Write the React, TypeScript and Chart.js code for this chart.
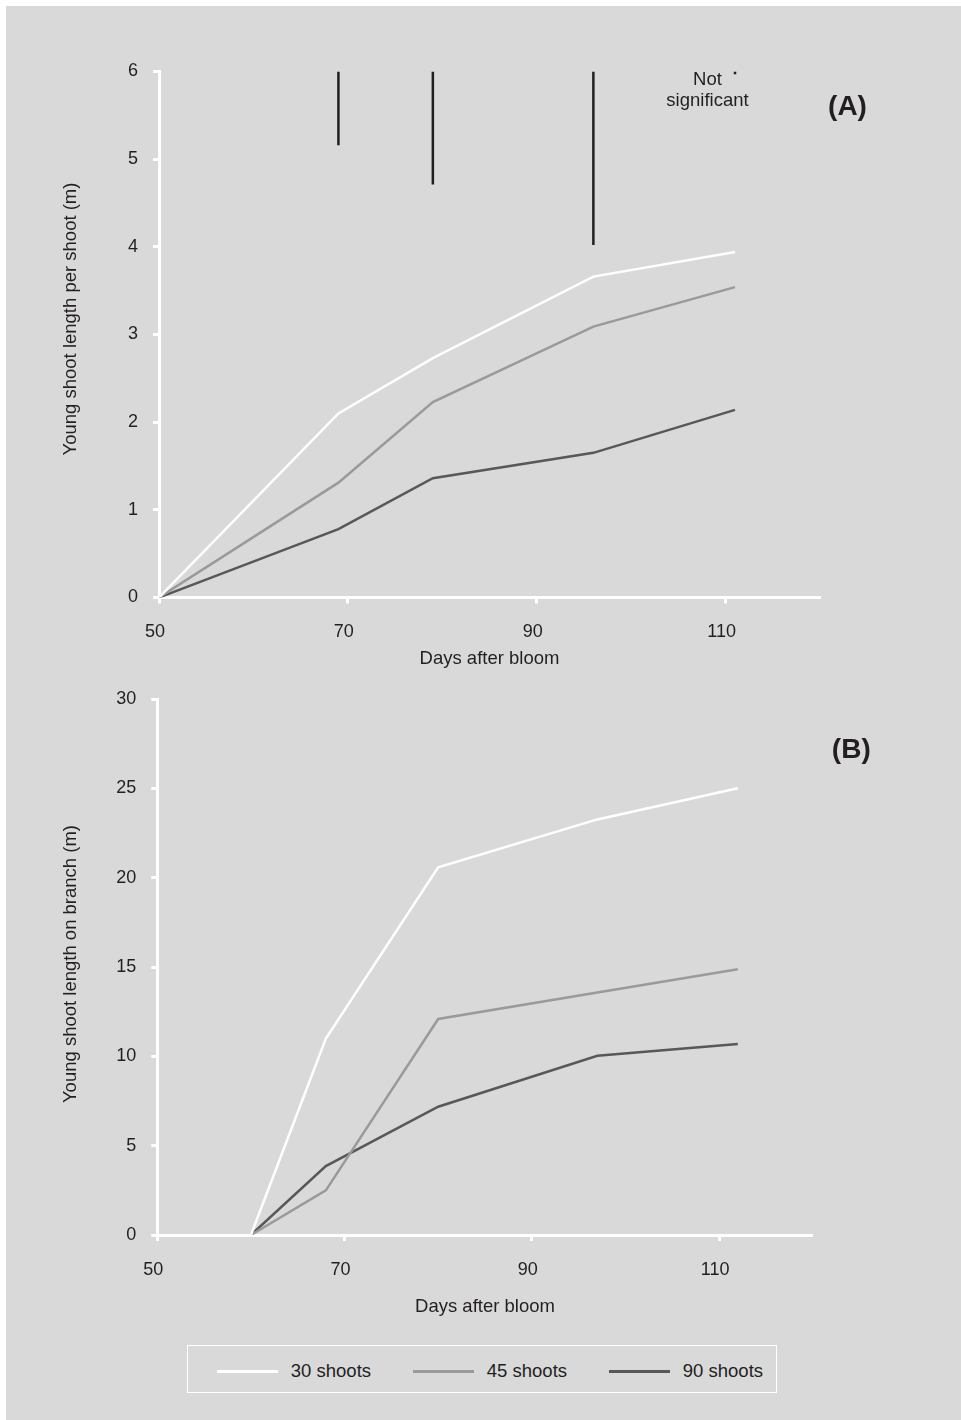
import React, { useEffect, useRef } from 'react';
import { Chart, registerables } from 'chart.js';

Chart.register(...registerables);

// ---------- data ----------
const seriesNames = ['30 shoots', '45 shoots', '90 shoots'];
const seriesColors = ['#ffffff', '#9a9a9a', '#585858'];

const daysA = [50, 69, 79, 96, 111];
const perShoot30 = [0, 2.1, 2.73, 3.66, 3.94];
const perShoot45 = [0, 1.31, 2.23, 3.09, 3.54];
const perShoot90 = [0, 0.78, 1.36, 1.65, 2.14];

const lsdDays = [69, 79, 96, 111];
const lsdTop = [6, 6, 6, 6];
const lsdBottom = [5.16, 4.71, 4.02, 5.97];

const daysB = [60, 68, 80, 97, 112];
const onBranch30 = [0, 11.0, 20.58, 23.26, 25.0];
const onBranch45 = [0, 2.5, 12.09, 13.57, 14.87];
const onBranch90 = [0, 3.86, 7.18, 10.03, 10.69];

const xTickValues = [50, 70, 90, 110];
const xMin = 50;
const xMax = 120;
const yMaxA = 6;
const yStepA = 1;
const yMaxB = 30;
const yStepB = 5;

const xTitle = 'Days after bloom';
const yTitleA = 'Young shoot length per shoot (m)';
const yTitleB = 'Young shoot length on branch (m)';
const panelA = '(A)';
const panelB = '(B)';
const noteLines = ['Not', 'significant'];

// ---------- styling ----------
const FONT = '"Liberation Sans", Arial, Helvetica, sans-serif';
const TEXT = '#231f20';
const BG = '#d9d9d9';

type TextItem = {
  text: string;
  x: number;
  y: number;
  font: string;
  rotate?: number;
  align?: CanvasTextAlign;
};

function makeTextPlugin(id: string, items: TextItem[]) {
  return {
    id,
    afterDraw(chart: any) {
      const ctx = chart.ctx as CanvasRenderingContext2D;
      items.forEach((it) => {
        ctx.save();
        ctx.translate(it.x, it.y);
        if (it.rotate) ctx.rotate(it.rotate);
        ctx.font = it.font;
        ctx.fillStyle = TEXT;
        ctx.textAlign = it.align || 'center';
        ctx.textBaseline = 'alphabetic';
        ctx.fillText(it.text, 0, 0);
        ctx.restore();
      });
    },
  };
}

function lineSet(label: string, xs: number[], ys: number[], color: string) {
  return {
    label,
    data: xs.map((x, i) => ({ x, y: ys[i] })),
    borderColor: color,
    backgroundColor: color,
    borderWidth: 2.5,
    pointRadius: 0,
    pointHoverRadius: 0,
    tension: 0,
    fill: false,
  };
}

function axes(opts: {
  yMax: number;
  yStep: number;
  yWidth: number;
  xHeight: number;
  xTickPad: number;
  xTitlePad: number;
}) {
  return {
    x: {
      type: 'linear' as const,
      min: xMin,
      max: xMax,
      afterBuildTicks: (scale: any) => {
        scale.ticks = xTickValues.map((v) => ({ value: v }));
      },
      afterFit: (scale: any) => {
        scale.height = opts.xHeight;
      },
      border: { display: true, color: '#ffffff', width: 3 },
      grid: {
        display: true,
        drawOnChartArea: false,
        drawTicks: true,
        tickLength: 6,
        tickColor: '#ffffff',
        tickWidth: 3,
      },
      ticks: {
        color: TEXT,
        font: { family: FONT, size: 18 },
        padding: opts.xTickPad,
        labelOffset: -4,
        maxRotation: 0,
        autoSkip: false,
      },
      title: {
        display: true,
        text: xTitle,
        color: TEXT,
        font: { family: FONT, size: 18.5 },
        padding: { top: 0, bottom: opts.xTitlePad },
      },
    },
    y: {
      type: 'linear' as const,
      min: 0,
      max: opts.yMax,
      afterFit: (scale: any) => {
        scale.width = opts.yWidth;
      },
      border: { display: true, color: '#ffffff', width: 3 },
      grid: {
        display: true,
        drawOnChartArea: false,
        drawTicks: true,
        tickLength: 6,
        tickColor: '#ffffff',
        tickWidth: 3,
      },
      ticks: {
        stepSize: opts.yStep,
        color: TEXT,
        font: { family: FONT, size: 18 },
        padding: 15,
      },
    },
  };
}

function ChartA() {
  const ref = useRef<HTMLCanvasElement | null>(null);
  useEffect(() => {
    if (!ref.current) return;
    const lsdSets = lsdDays.map((d, i) => ({
      label: 'lsd' + i,
      data: [
        { x: d, y: lsdTop[i] },
        { x: d, y: lsdBottom[i] },
      ],
      borderColor: TEXT,
      borderWidth: 2.5,
      pointRadius: 0,
      pointHoverRadius: 0,
      tension: 0,
      fill: false,
    }));
    const texts: TextItem[] = [
      { text: yTitleA, x: 76, y: 319, font: `18.5px ${FONT}`, rotate: -Math.PI / 2 },
      { text: noteLines[0], x: 707.5, y: 85, font: `18.5px ${FONT}` },
      { text: noteLines[1], x: 707.5, y: 105.5, font: `18.5px ${FONT}` },
      { text: panelA, x: 847.5, y: 114.5, font: `bold 28px ${FONT}` },
    ];
    const chart = new Chart(ref.current, {
      type: 'line',
      data: {
        datasets: [
          lineSet(seriesNames[0], daysA, perShoot30, seriesColors[0]),
          lineSet(seriesNames[1], daysA, perShoot45, seriesColors[1]),
          lineSet(seriesNames[2], daysA, perShoot90, seriesColors[2]),
          ...lsdSets,
        ] as any,
      },
      options: {
        animation: false,
        responsive: false,
        devicePixelRatio: 1,
        events: [],
        layout: { padding: { left: 0, top: 71.5, right: 141, bottom: 0 } },
        plugins: { legend: { display: false }, tooltip: { enabled: false } },
        scales: axes({
          yMax: yMaxA,
          yStep: yStepA,
          yWidth: 159,
          xHeight: 92.5,
          xTickPad: 17.6,
          xTitlePad: 20.3,
        }) as any,
      },
      plugins: [makeTextPlugin('textA', texts)],
    });
    return () => chart.destroy();
  }, []);
  return (
    <canvas
      ref={ref}
      width={961}
      height={690}
      style={{ position: 'absolute', left: 0, top: 0, width: 961, height: 690 }}
    />
  );
}

function ChartB() {
  const ref = useRef<HTMLCanvasElement | null>(null);
  useEffect(() => {
    if (!ref.current) return;
    const texts: TextItem[] = [
      { text: yTitleB, x: 76, y: 294, font: `18.5px ${FONT}`, rotate: -Math.PI / 2 },
      { text: panelB, x: 851.3, y: 87.5, font: `bold 28px ${FONT}` },
    ];
    const chart = new Chart(ref.current, {
      type: 'line',
      data: {
        datasets: [
          lineSet(seriesNames[0], daysB, onBranch30, seriesColors[0]),
          lineSet(seriesNames[1], daysB, onBranch45, seriesColors[1]),
          lineSet(seriesNames[2], daysB, onBranch90, seriesColors[2]),
        ] as any,
      },
      options: {
        animation: false,
        responsive: false,
        devicePixelRatio: 1,
        events: [],
        layout: { padding: { left: 0, top: 29, right: 148.3, bottom: 0 } },
        plugins: { legend: { display: false }, tooltip: { enabled: false } },
        scales: axes({
          yMax: yMaxB,
          yStep: yStepB,
          yWidth: 157.3,
          xHeight: 105,
          xTickPad: 18.4,
          xTitlePad: 22,
        }) as any,
      },
      plugins: [makeTextPlugin('textB', texts)],
    });
    return () => chart.destroy();
  }, []);
  return (
    <canvas
      ref={ref}
      width={961}
      height={670}
      style={{ position: 'absolute', left: 0, top: 670, width: 961, height: 670 }}
    />
  );
}

function Legend() {
  return (
    <div
      style={{
        position: 'absolute',
        left: 187.3,
        top: 1345,
        width: 589.4,
        height: 47.7,
        boxSizing: 'border-box',
        border: '1.5px solid #ffffff',
        fontFamily: FONT,
        fontSize: 18.5,
        color: TEXT,
      }}
    >
      {seriesNames.map((name, i) => (
        <div
          key={name}
          style={{
            position: 'absolute',
            left: 28.5 + i * 196,
            top: 3,
            height: 44.7,
            display: 'flex',
            alignItems: 'center',
            whiteSpace: 'nowrap',
          }}
        >
          <div style={{ width: 61, height: 3, background: seriesColors[i], marginRight: 13 }} />
          <span style={{ lineHeight: '20px' }}>{name}</span>
        </div>
      ))}
    </div>
  );
}

export default function App() {
  return (
    <div
      style={{
        position: 'absolute',
        left: 0,
        top: 0,
        width: 961,
        height: 1420,
        background: '#ffffff',
        overflow: 'hidden',
      }}
    >
      <div
        style={{
          position: 'absolute',
          left: 6,
          top: 6,
          width: 955,
          height: 1414,
          background: BG,
        }}
      />
      <ChartA />
      <ChartB />
      <Legend />
    </div>
  );
}
